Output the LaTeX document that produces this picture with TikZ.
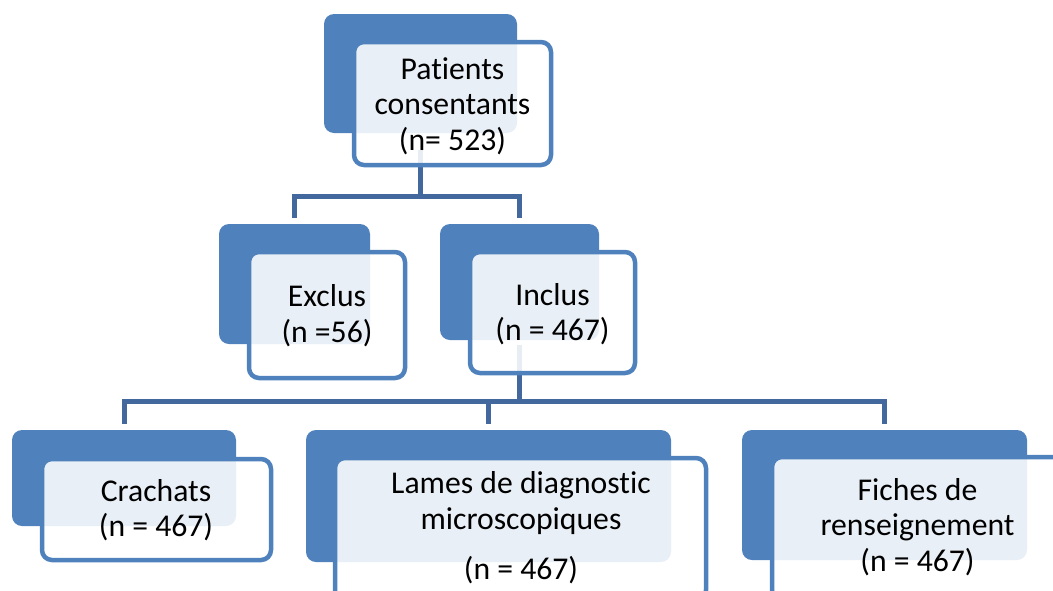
\documentclass[tikz,border=0pt]{standalone}
\usepackage{fontspec}
\setmainfont{Carlito}[Ligatures=NoCommon]
\definecolor{boxblue}{RGB}{79,129,189}
\definecolor{lineblue}{RGB}{66,104,158}
\pgfdeclarelayer{bg}
\pgfsetlayers{bg,main}
\begin{document}
\begin{tikzpicture}[x=1pt,y=-1pt,
  backbox/.style={fill=boxblue, rounded corners=10pt, inner sep=0pt, outer sep=0pt},
  frontbox/.style={draw=boxblue, line width=4.5pt, fill=white, fill opacity=0.88, rounded corners=10pt, inner sep=0pt, outer sep=0pt},
  conn/.style={draw=lineblue, line width=5pt},
  lbl/.style={font=\fontsize{31.7}{35.5}\selectfont, align=center, inner sep=0pt, anchor=north, text=black}]
\useasboundingbox (0,0) rectangle (1053,590);
\clip (0,0) rectangle (1053,590);
% back boxes
\node[backbox, minimum width=193pt, minimum height=119pt] (pb) at (420.5,73.5) {};
\node[backbox, minimum width=151pt, minimum height=120pt] (exb) at (294.5,284) {};
\node[backbox, minimum width=159pt, minimum height=116pt] (inb) at (519.5,282) {};
\node[backbox, minimum width=224pt, minimum height=96pt] (crb) at (124,478) {};
\node[backbox, minimum width=365pt, minimum height=132pt] (lmb) at (488.5,496) {};
\node[backbox, minimum width=285pt, minimum height=130pt] (fib) at (884.5,495) {};
% front boxes
\node[frontbox, minimum width=197pt, minimum height=123pt] (pf) at (452.5,103.5) {};
\node[frontbox, minimum width=156pt, minimum height=126pt] (exf) at (327,315) {};
\node[frontbox, minimum width=165pt, minimum height=121pt] (inf) at (552.5,312.5) {};
\node[frontbox, minimum width=229pt, minimum height=101pt] (crf) at (156.5,509.5) {};
\node[frontbox, minimum width=371pt, minimum height=142pt] (lmf) at (520.5,529) {};
\node[frontbox, minimum width=291pt, minimum height=143pt] (fif) at (917.5,528.5) {};
% labels
\node[lbl] (tp) at (452.5,54.2) {\strut Patients\\consentants\\(n= 523)};
\node[lbl] (te) at (327,281.9) {\strut Exclus\\(n =56)};
\node[lbl] (ti) at (552.5,280.2) {\strut Inclus\\(n = 467)};
\node[lbl] (tc) at (156,476.2) {\strut Crachats\\(n = 467)};
\node[lbl] (tl) at (521,468.5) {\strut Lames de diagnostic\\microscopiques\\[14.5pt](n = 467)};
\node[lbl] (tf) at (917.5,475.2) {\strut Fiches de\\renseignement\\(n = 467)};
% connectors
\coordinate (h1) at (0,196);
\coordinate (h2) at (0,401);
\coordinate (p0) at ([yshift=-17pt]pb.south);
\coordinate (e0) at ([yshift=6pt]exb.north);
\coordinate (i0) at ([yshift=6pt]inb.north);
\coordinate (q0) at ([yshift=-5pt]inb.south);
\coordinate (c0) at ([yshift=6pt]crb.north);
\coordinate (l0) at ([yshift=6pt]lmb.north);
\coordinate (f0) at ([yshift=6pt]fib.north);
\begin{pgfonlayer}{bg}
\draw[conn] (p0) -- (p0 |- h1);
\draw[conn] (e0) |- (p0 |- h1) -| (i0);
\draw[conn] (q0) -- (q0 |- h2);
\draw[conn] (c0) |- (f0 |- h2) -- (f0);
\draw[conn] (l0) -- (l0 |- h2);
\end{pgfonlayer}
\end{tikzpicture}
\end{document}
